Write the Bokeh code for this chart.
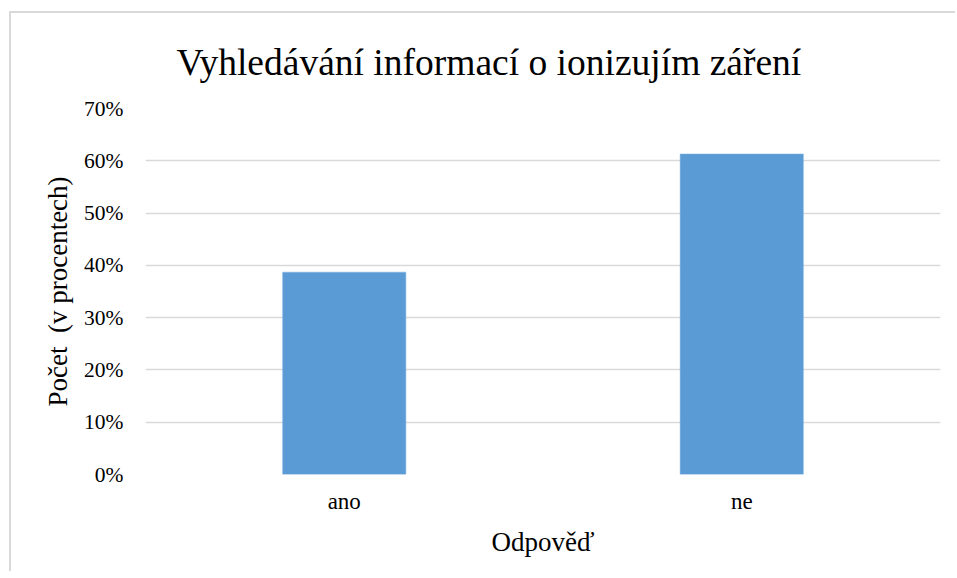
from bokeh.plotting import figure
from bokeh.models import FactorRange, Range1d, PrintfTickFormatter, FixedTicker
from bokeh.embed import file_html
from bokeh.resources import INLINE

categories = ["ano", "ne"]
values = [38.7, 61.3]
y_ticks = [0, 10, 20, 30, 40, 50, 60, 70]

title_text = "Vyhledávání informací o ionizujím záření"
x_label = "Odpověď"
y_label = "Počet\u00a0 (v procentech)"

FONT = "'Liberation Serif', 'Times New Roman', 'DejaVu Serif', serif"

p = figure(
    x_range=FactorRange(*categories, range_padding=0),
    y_range=Range1d(0, 70),
    width=946, height=560,
    output_backend="svg", toolbar_location=None,
    min_border_left=134, min_border_right=17, min_border_top=94, min_border_bottom=99,
    title=title_text,
)
p.styles = {"margin-left": "9px", "margin-top": "11px",
            "border-left": "2px solid #d9d9d9", "border-top": "2px solid #d9d9d9"}

p.vbar(x=categories, top=values, width=0.31, fill_color="#5b9bd5", line_color="#7fb0e0", line_width=0.5)

p.title.text_font = FONT
p.title.text_font_size = "37.5px"
p.title.text_font_style = "normal"
p.title.text_color = "#000000"
p.title.align = "left"
p.title.offset = 31
p.title.standoff = 52

p.outline_line_color = None
p.background_fill_color = "white"
p.border_fill_color = "white"

p.xgrid.grid_line_color = None
p.ygrid.grid_line_color = "#d9d9d9"
p.ygrid.grid_line_width = 1.5
p.yaxis.ticker = FixedTicker(ticks=y_ticks)
p.yaxis.formatter = PrintfTickFormatter(format="%d%%")

for ax in (p.xaxis[0], p.yaxis[0]):
    ax.axis_line_color = None
    ax.major_tick_line_color = None
    ax.minor_tick_line_color = None
    ax.major_label_text_font = FONT
    ax.major_label_text_color = "#000000"
    ax.axis_label_text_font = FONT
    ax.axis_label_text_font_size = "27px"
    ax.axis_label_text_font_style = "normal"
    ax.axis_label_text_color = "#000000"

p.xaxis.major_label_text_font_size = "23px"
p.yaxis.major_label_text_font_size = "21.5px"

p.xaxis.axis_label = x_label
p.yaxis.axis_label = y_label
p.yaxis.major_label_standoff = 16
p.xaxis.major_label_standoff = 8
p.yaxis.axis_label_standoff = 8
p.xaxis.axis_label_standoff = 10

open("out.html", "w").write(file_html(p, INLINE))
